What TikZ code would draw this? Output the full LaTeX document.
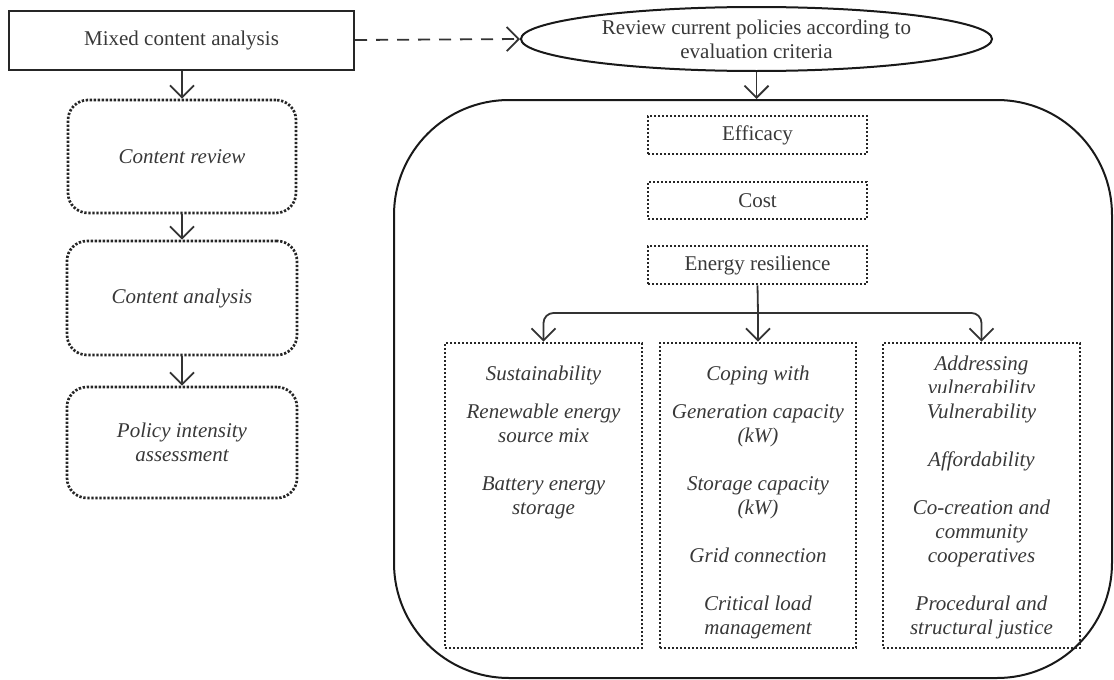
\documentclass[tikz,border=0pt]{standalone}
\usepackage{fontspec}
\setmainfont{Liberation Serif}
\usetikzlibrary{shapes.geometric,arrows.meta}
\begin{document}
\begin{tikzpicture}[x=1pt,y=-1pt,
  every node/.style={font=\fontsize{21}{24}\selectfont, text=black!78},
  solidbox/.style={draw=black!85, line width=2pt, rectangle, inner sep=0pt},
  dotbox/.style={draw=black!85, line width=2.7pt, dash pattern=on 2.3pt off 1.7pt, rectangle, inner sep=0pt},
  rdot/.style={dotbox, rounded corners=20pt},
  frame/.style={draw=black!90, line width=2pt, rectangle, rounded corners=115pt, inner sep=0pt},
  plain/.style={draw=black!80, line width=1.8pt},
  arr/.style={plain, -{Straight Barb[length=12pt,width=24pt,line width=1.8pt]}},
  darr/.style={arr, dash pattern=on 12pt off 9pt},
  txt/.style={align=center, inner sep=0pt, anchor=north},
  itxt/.style={txt, font=\fontsize{21}{24}\selectfont\itshape}
]
\useasboundingbox (0,0) rectangle (1114,680);

% left column
\node[solidbox, minimum width=345pt, minimum height=59pt] (mixed) at (181.5,40) {Mixed content analysis};
\node[rdot, minimum width=228pt, minimum height=113pt, font=\fontsize{21}{24}\selectfont\itshape] (review) at (182,156.5) {Content review};
\node[rdot, minimum width=230pt, minimum height=114pt, font=\fontsize{21}{24}\selectfont\itshape] (analysis) at (182,298) {Content analysis};
\node[rdot, minimum width=230pt, minimum height=111pt, align=center, font=\fontsize{21}{24}\selectfont\itshape] (policy) at (182,442.5) {Policy intensity\\ assessment};

\draw[arr] (mixed.south -| review.north) -- (review.north);
\draw[arr] (review.south) -- (analysis.north);
\draw[arr] (analysis.south) -- (policy.north);

% right part
\node[ellipse, draw=black!90, line width=2pt, minimum width=471pt, minimum height=64pt, inner sep=0pt, align=center] (crit) at (756.5,39) {Review current policies according to\\ evaluation criteria};
\draw[darr] (mixed.east) -- (crit.west);

\node[frame, minimum width=718pt, minimum height=578pt] (big) at (753,389) {};
\draw[arr] (crit.south) -- (crit.south |- big.north);

\node[dotbox, minimum width=219pt, minimum height=38pt] (eff) at (757.5,135) {Efficacy};
\node[dotbox, minimum width=219pt, minimum height=37pt] (cost) at (757.5,200.5) {Cost};
\node[dotbox, minimum width=219pt, minimum height=38pt] (res) at (757.5,265) {Energy resilience};

\node[dotbox, minimum width=197pt, minimum height=305pt] (sust) at (543.5,495.5) {};
\node[dotbox, minimum width=196pt, minimum height=305pt] (cope) at (758,495.5) {};
\node[dotbox, minimum width=197pt, minimum height=305pt] (addr) at (981.5,495.5) {};

\coordinate (j) at (758,313);
\draw[plain] (res.south) -- (j);
\draw[arr, rounded corners=10pt] (j) -| (sust.north);
\draw[arr, rounded corners=10pt] (j) -| (addr.north);
\draw[arr] (j) -- (cope.north);

\node[itxt] (sustt) at (543.5,366) {Sustainability\\[14pt] Renewable energy\\ source mix\\[24pt] Battery energy\\ storage};
\node[itxt] (copet) at (758,366) {Coping with\\[14pt] Generation capacity\\ (kW)\\[24pt] Storage capacity\\ (kW)\\[24pt] Grid connection\\[24pt] Critical load\\ management};
\begin{scope}
  \clip (884,346) rectangle (1079,392);
  \node[itxt] (addrh) at (981.5,356) {Addressing\\ vulnerability};
\end{scope}
\node[itxt] (addrt) at (981.5,404) {Vulnerability\\[24pt] Affordability\\[24pt] Co-creation and\\ community\\ cooperatives\\[24pt] Procedural and\\ structural justice};
\end{tikzpicture}
\end{document}
